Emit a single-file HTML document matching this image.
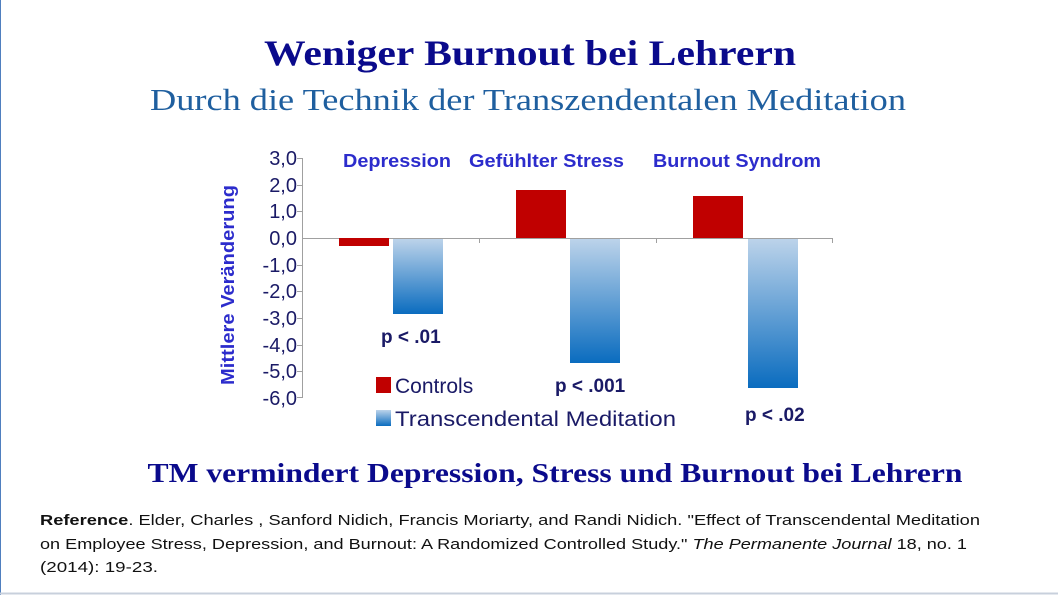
<!DOCTYPE html>
<html><head><meta charset="utf-8"><style>
html,body{margin:0;padding:0;background:#fff;}
svg{display:block}
</style></head><body>
<svg width="1058" height="595" xmlns="http://www.w3.org/2000/svg">
<defs>
<linearGradient id="g" x1="0" y1="0" x2="0" y2="1">
<stop offset="0" stop-color="#bcd3ea"/><stop offset="1" stop-color="#0a6cbf"/>
</linearGradient>
</defs>
<rect x="0" y="0" width="1058" height="595" fill="#fff"/>
<line x1="0.5" y1="0" x2="0.5" y2="595" stroke="#4f7fbf" stroke-width="1"/>
<line x1="0" y1="593.5" x2="1058" y2="593.5" stroke="#c8d0dc" stroke-width="2"/>
<text x="530" y="65" text-anchor="middle" font-family="Liberation Serif, serif" font-weight="bold" font-size="36" fill="#0a0a8c" textLength="532" lengthAdjust="spacingAndGlyphs">Weniger Burnout bei Lehrern</text>
<text x="528" y="110" text-anchor="middle" font-family="Liberation Serif, serif" font-size="31" fill="#1f5f9f" textLength="756" lengthAdjust="spacingAndGlyphs">Durch die Technik der Transzendentalen Meditation</text>
<g font-family="Liberation Sans, sans-serif" font-weight="bold" font-size="18" fill="#2c2ccc">
<text x="343" y="167" textLength="108" lengthAdjust="spacingAndGlyphs">Depression</text>
<text x="469" y="167" textLength="155" lengthAdjust="spacingAndGlyphs">Gefühlter Stress</text>
<text x="653" y="167" textLength="168" lengthAdjust="spacingAndGlyphs">Burnout Syndrom</text>
<text transform="translate(234,285) rotate(-90)" text-anchor="middle" font-size="18" textLength="200" lengthAdjust="spacingAndGlyphs">Mittlere Veränderung</text>
</g>
<g font-family="Liberation Sans, sans-serif" font-size="20" fill="#1a1a66" text-anchor="end">
<text x="297" y="165">3,0</text><text x="297" y="192">2,0</text><text x="297" y="218">1,0</text><text x="297" y="245">0,0</text>
<text x="297" y="272">-1,0</text><text x="297" y="298">-2,0</text><text x="297" y="325">-3,0</text><text x="297" y="352">-4,0</text>
<text x="297" y="378">-5,0</text><text x="297" y="405">-6,0</text>
</g>
<g stroke="#a0a0a0" stroke-width="1">
<line x1="302.5" y1="158" x2="302.5" y2="398"/>
<line x1="302" y1="238.5" x2="833" y2="238.5"/>
<line x1="297" y1="158.5" x2="302" y2="158.5"/><line x1="297" y1="185.5" x2="302" y2="185.5"/><line x1="297" y1="211.5" x2="302" y2="211.5"/>
<line x1="297" y1="265.5" x2="302" y2="265.5"/><line x1="297" y1="291.5" x2="302" y2="291.5"/><line x1="297" y1="318.5" x2="302" y2="318.5"/>
<line x1="297" y1="345.5" x2="302" y2="345.5"/><line x1="297" y1="371.5" x2="302" y2="371.5"/><line x1="297" y1="397.5" x2="302" y2="397.5"/>
<line x1="479.5" y1="238" x2="479.5" y2="243"/><line x1="656.5" y1="238" x2="656.5" y2="243"/><line x1="832.5" y1="238" x2="832.5" y2="243"/>
</g>
<rect x="339" y="238" width="50" height="8" fill="#c00000"/>
<rect x="393" y="239" width="50" height="75" fill="url(#g)"/>
<rect x="516" y="190" width="50" height="48" fill="#c00000"/>
<rect x="570" y="239" width="50" height="124" fill="url(#g)"/>
<rect x="693" y="196" width="50" height="42" fill="#c00000"/>
<rect x="748" y="239" width="50" height="149" fill="url(#g)"/>
<g font-family="Liberation Sans, sans-serif" font-weight="bold" font-size="19" fill="#1a1a66">
<text x="381" y="343">p &lt; .01</text>
<text x="555" y="392">p &lt; .001</text>
<text x="745" y="421">p &lt; .02</text>
</g>
<rect x="376" y="377" width="15" height="16" fill="#c00000"/>
<rect x="376" y="410" width="15" height="16" fill="url(#g)"/>
<g font-family="Liberation Sans, sans-serif" font-size="21" fill="#1a1a66">
<text x="395" y="393">Controls</text>
<text x="395" y="426" textLength="281" lengthAdjust="spacingAndGlyphs">Transcendental Meditation</text>
</g>
<text x="555" y="482" text-anchor="middle" font-family="Liberation Serif, serif" font-weight="bold" font-size="27" fill="#0a0a8c" textLength="815" lengthAdjust="spacingAndGlyphs">TM vermindert Depression, Stress und Burnout bei Lehrern</text>
<g font-family="Liberation Sans, sans-serif" font-size="15" fill="#111">
<text x="40" y="525" textLength="940" lengthAdjust="spacingAndGlyphs"><tspan font-weight="bold">Reference</tspan>. Elder, Charles , Sanford  Nidich, Francis Moriarty, and Randi  Nidich. "Effect of Transcendental Meditation</text>
<text x="40" y="549" textLength="927" lengthAdjust="spacingAndGlyphs">on Employee Stress, Depression, and Burnout: A Randomized Controlled Study." <tspan font-style="italic">The Permanente  Journal</tspan> 18, no. 1</text>
<text x="40" y="572" textLength="118" lengthAdjust="spacingAndGlyphs">(2014): 19-23.</text>
</g>
</svg>
</body></html>
